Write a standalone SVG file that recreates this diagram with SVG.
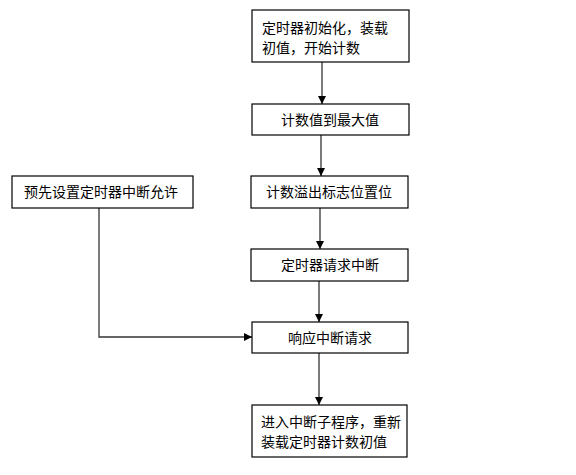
<svg xmlns="http://www.w3.org/2000/svg" width="576" height="475" viewBox="0 0 576 475">
<style>
.box{fill:#fff;stroke:#000;stroke-width:1.2}
.t{font-family:"Noto Sans CJK SC","Noto Sans CJK JP",sans-serif;font-size:14px;fill:#000}
.c{text-anchor:middle}
.ln{fill:none;stroke:#333;stroke-width:1.3}
</style>
<defs>
<marker id="ah" markerWidth="8" markerHeight="8" refX="8" refY="4" orient="auto" markerUnits="userSpaceOnUse">
<path d="M0,0 L8,4 L0,8 Z" fill="#000"/>
</marker>
</defs>
<rect width="576" height="475" fill="#fff"/>
<g id="connectors">
<line class="ln" x1="322" y1="62" x2="322" y2="104" marker-end="url(#ah)"/>
<line class="ln" x1="321" y1="135" x2="321" y2="176" marker-end="url(#ah)"/>
<line class="ln" x1="320" y1="208" x2="320" y2="249" marker-end="url(#ah)"/>
<line class="ln" x1="319" y1="281" x2="319" y2="322" marker-end="url(#ah)"/>
<line class="ln" x1="319" y1="353" x2="319" y2="405" marker-end="url(#ah)"/>
<polyline class="ln" points="99,208 99,337 252,337" marker-end="url(#ah)"/>
</g>
<g id="n1">
<rect class="box" x="252" y="10" width="157" height="52"/>
<text class="t" x="262" y="33">定时器初始化，装载</text>
<text class="t" x="262" y="53">初值，开始计数</text>
</g>
<g id="n2">
<rect class="box" x="252" y="104" width="157" height="31"/>
<text class="t c" x="330" y="125">计数值到最大值</text>
</g>
<g id="n3">
<rect class="box" x="251" y="176" width="157" height="32"/>
<text class="t c" x="329" y="197">计数溢出标志位置位</text>
</g>
<g id="n0">
<rect class="box" x="12" y="176" width="181" height="32"/>
<text class="t c" x="101" y="197">预先设置定时器中断允许</text>
</g>
<g id="n4">
<rect class="box" x="251" y="249" width="157" height="32"/>
<text class="t c" x="330" y="270">定时器请求中断</text>
</g>
<g id="n5">
<rect class="box" x="252" y="322" width="156" height="31"/>
<text class="t c" x="330" y="343">响应中断请求</text>
</g>
<g id="n6">
<rect class="box" x="252" y="405" width="155" height="52"/>
<text class="t" x="261" y="427">进入中断子程序，重新</text>
<text class="t" x="261" y="447">装载定时器计数初值</text>
</g>
</svg>
